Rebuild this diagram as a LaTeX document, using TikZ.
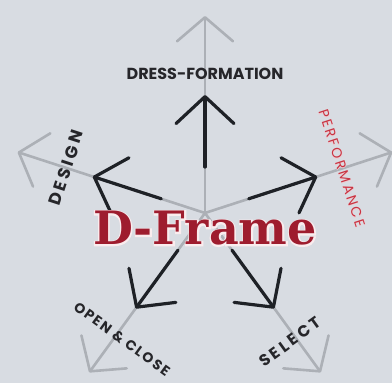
\documentclass[tikz,border=0pt]{standalone}
\usepackage{fontspec}
\setsansfont{Poppins}
\newfontfamily\slabfont{DejaVu Serif}
\usetikzlibrary{arrows.meta,calc}
\definecolor{bg}{RGB}{216,220,226}
\definecolor{darkarrow}{RGB}{30,33,38}
\definecolor{grayarrow}{RGB}{172,176,182}
\definecolor{labelcol}{RGB}{38,38,42}
\definecolor{framered}{RGB}{158,28,46}
\definecolor{perfred}{RGB}{200,52,66}
\definecolor{halo}{RGB}{250,236,238}
\definecolor{perfhalo}{RGB}{238,204,210}
\begin{document}
\begin{tikzpicture}[x=1pt,y=1pt,
  outerarrow/.style={draw=grayarrow, line width=2.6pt, line cap=round,
    -{Straight Barb[length=24pt,width=56pt,round]}},
  innerarrow/.style={draw=darkarrow, line width=3.2pt, line cap=round,
    -{Straight Barb[length=27pt,width=58pt,round]}},
  lbl/.style={text=labelcol, inner sep=0pt},
  framefont/.style={inner sep=0pt, anchor=base},
  perffont/.style={rotate=-72, inner sep=0pt}
]
\useasboundingbox (-205,-170) rectangle (187,213);
\fill[bg] (-205,-170) rectangle (187,213);
\coordinate (c) at (0,0);
% outer gray tips and inner dark arrows
\foreach \n/\a in {up/90, design/162, perf/18, open/234, sel/306}{
  \coordinate (g\n) at (\a:197);
  \coordinate (s\n) at (\a:46);
  \coordinate (d\n) at (\a:118);
}
\foreach \n in {up, design, perf, open, sel}
  \draw[outerarrow] (c) -- (g\n);
\foreach \n in {up, design, perf, open, sel}
  \draw[innerarrow] (s\n) -- (d\n);
% labels
\node[lbl, font=\sffamily\bfseries\fontsize{16}{16}\selectfont] (ldress) at (0,139) {DRESS-FORMATION};
\node[lbl, font=\sffamily\bfseries\fontsize{17}{17}\selectfont\addfontfeature{LetterSpace=18}, rotate=72] (ldesign) at (162:146) {DESIGN};
\node[perffont, text=perfhalo, font={\sffamily\fontsize{14}{14}\selectfont\addfontfeature{LetterSpace=16,FakeBold=4}}] (perfhalo) at (18:144) {PERFORMANCE};
\node[perffont, text=perfred, font={\sffamily\fontsize{14}{14}\selectfont\addfontfeature{LetterSpace=16}}] (lperf) at (18:144) {PERFORMANCE};
\node[lbl, font=\sffamily\bfseries\fontsize{14}{14}\selectfont\addfontfeature{LetterSpace=12}, rotate=-36] (lopen) at (-83,-126) {OPEN \& CLOSE};
\node[lbl, font=\sffamily\bfseries\fontsize{16}{16}\selectfont\addfontfeature{LetterSpace=20}, rotate=36] (lsel) at (85,-129) {SELECT};
% D-Frame title with halo
\node[framefont, text=halo, font={\slabfont\bfseries\fontsize{46}{46}\selectfont\addfontfeature{FakeBold=6}}] (titlehalo) at (0,-32) {D-Frame};
\node[framefont, text=framered, font={\slabfont\bfseries\fontsize{46}{46}\selectfont}] (title) at (0,-32) {D-Frame};
\end{tikzpicture}
\end{document}
